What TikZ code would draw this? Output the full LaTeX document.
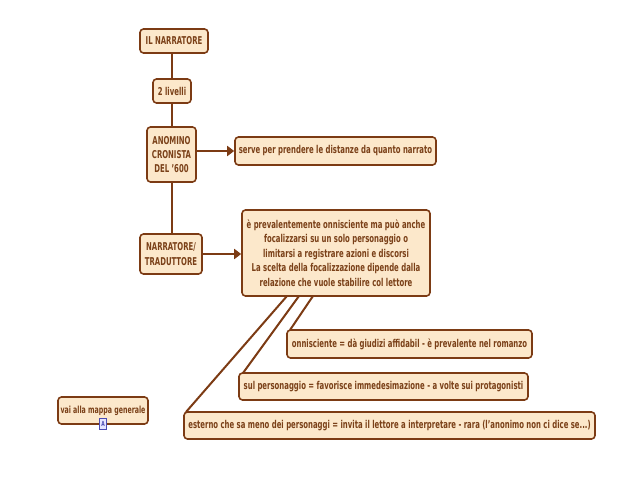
\documentclass[tikz,border=0pt]{standalone}
\usepackage{fontspec}
\setmainfont{DejaVu Sans}[FakeStretch=0.64]
\usetikzlibrary{arrows.meta}
\definecolor{cbrown}{HTML}{7C3B14}
\definecolor{cfill}{HTML}{FCE8CB}
\definecolor{ctext}{HTML}{7A4018}
\tikzset{
  x=1pt,y=-1pt,
  cbox/.style={draw=cbrown,fill=cfill,line width=1.6pt,rounded corners=3.5pt,inner sep=0pt,
    align=center,text=ctext,font=\fontsize{10.8}{14.4}\selectfont\bfseries},
  plain link/.style={draw=cbrown,line width=2pt},
  arrow link/.style={draw=cbrown,line width=2.8pt,-{Triangle[length=7pt,width=10pt]}},
}
\begin{document}
\begin{tikzpicture}
\useasboundingbox (0,0) rectangle (638,479);
\coordinate (f1) at (313,296);
\coordinate (f2) at (299,296);
\coordinate (f3) at (287,296);
\coordinate (t1) at (290,330);
\coordinate (t2) at (243,373);
\coordinate (t3) at (186,412);
\draw[plain link] (f1) -- (t1);
\draw[plain link] (f2) -- (t2);
\draw[plain link] (f3) -- (t3);
\node[cbox,minimum width=68pt,minimum height=24pt] (root) at (174,41) {IL NARRATORE};
\node[cbox,minimum width=38pt,minimum height=24pt] (liv) at (172,91) {2 livelli};
\node[cbox,minimum width=49pt,minimum height=55pt] (anon) at (171.5,154.5) {ANOMINO\\CRONISTA\\DEL '600};
\node[cbox,minimum width=201pt,minimum height=28pt] (serve) at (335.5,151) {serve per prendere le distanze da quanto narrato};
\node[cbox,minimum width=62pt,minimum height=40pt] (narr) at (171,254) {NARRATORE/\\TRADUTTORE};
\node[cbox,minimum width=188pt,minimum height=86pt] (prev) at (336,253) {è prevalentemente onnisciente ma può anche\\focalizzarsi su un solo personaggio o\\limitarsi a registrare azioni e discorsi\\La scelta della focalizzazione dipende dalla\\relazione che vuole stabilire col lettore};
\node[cbox,minimum width=245pt,minimum height=28pt] (onn) at (409.5,344) {onnisciente = dà giudizi affidabil - è prevalente nel romanzo};
\node[cbox,minimum width=289pt,minimum height=27pt] (sul) at (383.5,386.5) {sul personaggio = favorisce immedesimazione - a volte sui protagonisti};
\node[cbox,minimum width=411pt,minimum height=27pt] (est) at (389.5,425.5) {esterno che sa meno dei personaggi = invita il lettore a interpretare - rara (l'anonimo non ci dice se...)};
\node[cbox,minimum width=90pt,minimum height=27pt,font=\fontsize{9.8}{12}\selectfont\bfseries] (vai) at (103,410.5) {vai alla mappa generale};
\draw[plain link] (liv.north |- root.south) -- (liv.north);
\draw[plain link] (liv.south) -- (liv.south |- anon.north);
\draw[plain link] (liv.south |- anon.south) -- (liv.south |- narr.north);
\draw[arrow link] (anon.east |- serve.west) -- (serve.west);
\draw[arrow link] (narr.east) -- (prev.west |- narr.east);
\node[draw=blue!40!gray,fill=blue!10,line width=0.5pt,minimum width=7pt,minimum height=11pt,inner sep=0pt,text=blue!40!gray,font=\fontsize{7}{7}\selectfont\bfseries] (ico) at (103,424) {A};
\end{tikzpicture}
\end{document}
